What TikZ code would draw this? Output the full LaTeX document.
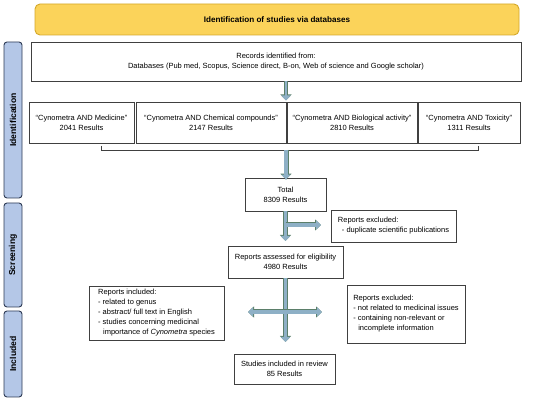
\documentclass[tikz,border=0pt]{standalone}
\usepackage{fontspec}
\setmainfont{Liberation Sans}
\usetikzlibrary{arrows.meta}
\definecolor{banner}{HTML}{FBD35A}
\definecolor{bannerline}{HTML}{D4A82A}
\definecolor{side}{HTML}{B4C7E7}
\definecolor{sideline}{HTML}{2E3B55}
\definecolor{arrowfill}{HTML}{8EB0C6}
\definecolor{arrowline}{HTML}{5B7F6A}
\definecolor{boxline}{HTML}{404040}
\tikzset{
  txt/.style={font=\fontsize{7.5}{10}\selectfont},
  box/.style={draw=boxline, line width=0.9pt, fill=white, inner sep=0pt, align=center, txt},
  sidebox/.style={draw=sideline, line width=0.9pt, fill=side, rounded corners=3pt, inner sep=0pt, minimum width=18pt, font=\fontsize{8.6}{9}\selectfont\bfseries},
  flow/.style={draw=arrowline, line width=5pt, -{Triangle[length=6pt,width=11pt]}},
  flowin/.style={draw=arrowfill, line width=3.6pt, -{Triangle[length=5pt,width=9pt]}},
  bracket/.style={draw=boxline, line width=0.9pt}
}
\newcommand{\flowarrow}[2]{%
  \draw[flow] #1 -- #2;
  \draw[flowin] #1 -- #2;}
\begin{document}
\begin{tikzpicture}[x=1pt,y=-1pt]
\useasboundingbox (0,0) rectangle (550,401);
% banner
\node[draw=bannerline, line width=0.9pt, fill=banner, rounded corners=5pt, minimum width=484pt, minimum height=31pt, inner sep=0pt, font=\fontsize{8.1}{9}\selectfont\bfseries] (banner) at (277,19.5) {Identification of studies via databases};
% side labels
\node[sidebox, minimum height=156pt] (sid) at (13,120) {\rotatebox{90}{Identification}};
\node[sidebox, minimum height=104pt] (sscr) at (13,255) {\rotatebox{90}{Screening}};
\node[sidebox, minimum height=86pt] (sinc) at (13,354) {\rotatebox{90}{Included}};
% boxes
\node[box, minimum width=490pt, minimum height=39pt] (records) at (276,61.5) {Records identified from:\\Databases (Pub med, Scopus, Science direct, B-on, Web of science and Google scholar)};
\node[box, minimum width=105pt, minimum height=41pt] (q1) at (81.5,122.5) {``Cynometra AND Medicine''\\2041 Results};
\node[box, minimum width=150pt, minimum height=41pt] (q2) at (211,122.5) {``Cynometra AND Chemical compounds''\\2147 Results};
\node[box, minimum width=130pt, minimum height=41pt] (q3) at (352,122.5) {``Cynometra AND Biological activity''\\2810 Results};
\node[box, minimum width=102pt, minimum height=41pt] (q4) at (469,122.5) {``Cynometra AND Toxicity''\\1311 Results};
\node[box, minimum width=81pt, minimum height=33pt] (total) at (285.5,194.5) {Total\\8309 Results};
\node[box, minimum width=125pt, minimum height=32pt, align=left] (excl1) at (393.5,226) {Reports excluded:\\\hspace*{4pt}- duplicate scientific publications};
\node[box, minimum width=115pt, minimum height=32pt] (elig) at (285.5,262) {Reports assessed for eligibility\\4980 Results};
\node[box, minimum width=135pt, minimum height=54pt, align=left] (incl) at (156.5,313) {Reports included:\\- related to genus\\- abstract/ full text in English\\- studies concerning medicinal\\\hspace*{5pt}importance of \textit{Cynometra} species};
\node[box, minimum width=118pt, minimum height=58pt, align=left] (excl2) at (406,314) {Reports excluded:\\- not related to medicinal issues\\- containing non-relevant or\\\hspace*{5pt}incomplete information};
\node[box, minimum width=101pt, minimum height=30pt] (studies) at (284.5,369) {Studies included in review\\85 Results};
% bracket
\coordinate (bl) at (101,146);
\coordinate (br) at (478,146);
\coordinate (bm) at (286,150);
\draw[bracket] (bl) -- (bl |- bm) -- (br |- bm) -- (br);
% arrows
\coordinate (r1) at (286,100.5);
\draw[flow, line width=4.2pt] (records.south -| r1) -- (r1);
\draw[flowin, line width=2.8pt] (records.south -| r1) -- (r1);
\flowarrow{(bm)}{([yshift=-2pt]total.north -| bm)}
\coordinate (t1) at (285.5,241);
\flowarrow{(total.south)}{(t1)}
\coordinate (b1) at (285.5,225);
\coordinate (b1e) at (321,225);
\flowarrow{(b1)}{(b1e)}
\coordinate (e1) at (285.5,342);
\flowarrow{(elig.south)}{(e1)}
\coordinate (c) at (285.5,312);
\coordinate (cl) at (248,312);
\coordinate (cr) at (322,312);
\flowarrow{(c)}{(cl)}
\flowarrow{(c)}{(cr)}
\end{tikzpicture}
\end{document}
